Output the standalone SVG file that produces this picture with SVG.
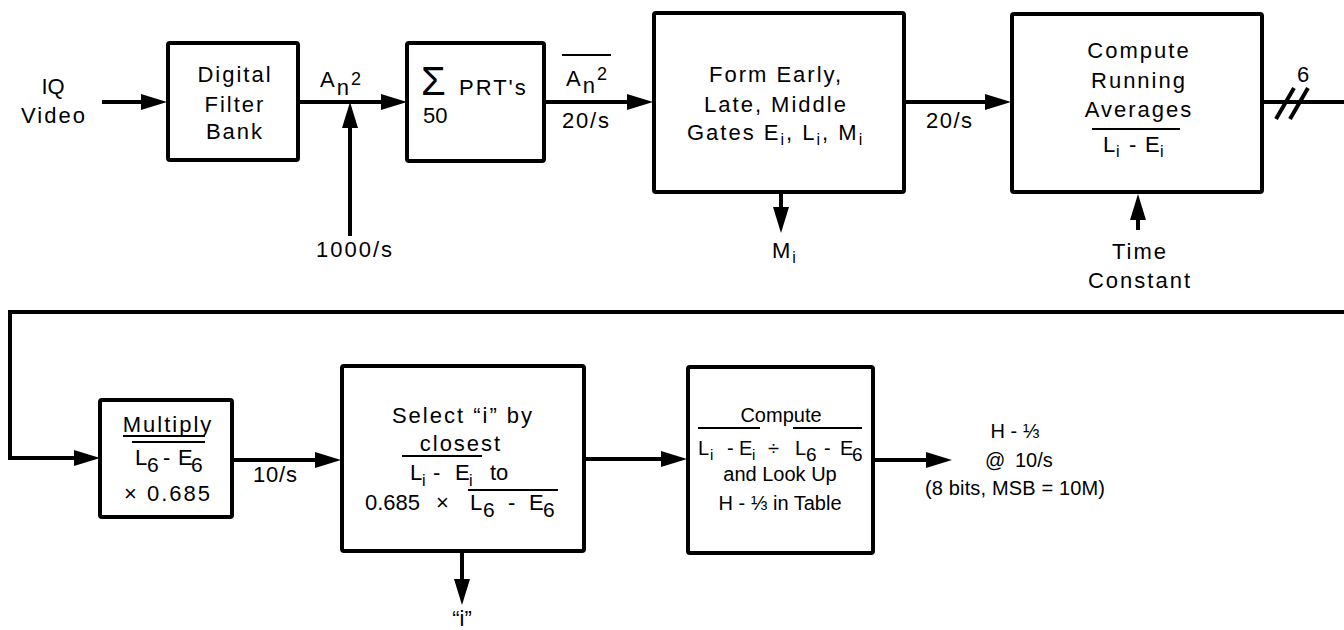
<svg xmlns="http://www.w3.org/2000/svg" width="1344" height="630" viewBox="0 0 1344 630">
<style>
.t{font-family:"Liberation Sans",Arial,Helvetica,sans-serif;font-size:22px;letter-spacing:2px;fill:#000}
.c{text-anchor:middle}
.n{font-size:20px;letter-spacing:0}
.z{letter-spacing:0}
.sig{font-size:40px;letter-spacing:0}
.box{fill:#fff;stroke:#000;stroke-width:4}
.ln{fill:none;stroke:#000;stroke-width:4}
.bar{stroke:#000;stroke-width:2}
</style>
<defs>
<marker id="ah" markerWidth="26" markerHeight="16" refX="16" refY="8" orient="auto" markerUnits="userSpaceOnUse">
<path d="M0,0 L26,8 L0,16 Z" fill="#000"/>
</marker>
</defs>
<rect width="1344" height="630" fill="#fff"/>

<g id="connectors">
<line class="ln" x1="102" y1="102" x2="157" y2="102" marker-end="url(#ah)"/>
<line class="ln" x1="298" y1="102" x2="397" y2="102" marker-end="url(#ah)"/>
<line class="ln" x1="350" y1="236" x2="350" y2="112" marker-end="url(#ah)"/>
<line class="ln" x1="544" y1="102" x2="643" y2="102" marker-end="url(#ah)"/>
<line class="ln" x1="904" y1="102" x2="1001" y2="102" marker-end="url(#ah)"/>
<line class="ln" x1="781" y1="192" x2="781" y2="223" marker-end="url(#ah)"/>
<line class="ln" x1="1138" y1="230" x2="1138" y2="204" marker-end="url(#ah)"/>
<line class="ln" x1="1262" y1="102" x2="1344" y2="102"/>
<line class="ln" x1="1276" y1="119" x2="1294" y2="88"/>
<line class="ln" x1="1290" y1="119" x2="1308" y2="88"/>
<polyline class="ln" points="1344,312 10,312 10,458 90,458" marker-end="url(#ah)"/>
<line class="ln" x1="232" y1="460" x2="331" y2="460" marker-end="url(#ah)"/>
<line class="ln" x1="584" y1="459" x2="677" y2="459" marker-end="url(#ah)"/>
<line class="ln" x1="873" y1="460" x2="942" y2="460" marker-end="url(#ah)"/>
<line class="ln" x1="462" y1="551" x2="462" y2="595" marker-end="url(#ah)"/>
</g>

<g id="labels">
<g id="in-iq">
<text class="t c z" x="53" y="94">IQ</text>
<text class="t c" x="54" y="123">Video</text>
</g>
<text class="t" x="320" y="87">A<tspan dy="8">n</tspan><tspan dy="-10" font-size="18">2</tspan></text>
<text class="t c" x="355" y="257">1000/s</text>
<line class="bar" x1="562" y1="55" x2="611" y2="55"/>
<text class="t" x="566" y="86">A<tspan dy="7">n</tspan><tspan dy="-13" font-size="18">2</tspan></text>
<text class="t z" x="562" y="128" textLength="47">20/s</text>
<text class="t z" x="926" y="128" textLength="46">20/s</text>
<text class="t" x="772" y="258">M<tspan dy="5" font-size="16">i</tspan></text>
<text class="t c" x="1140" y="259">Time</text>
<text class="t c" x="1140" y="288">Constant</text>
<text class="t c z" x="1303" y="82">6</text>
<text class="t z" x="253" y="482" textLength="44">10/s</text>
<text class="t c z" x="462" y="626">“i”</text>
<g id="out-h">
<text class="t c n" x="1015" y="438">H - ⅓</text>
<text class="t n" y="467"><tspan x="985">@</tspan><tspan x="1015">10/s</tspan></text>
<text class="t c n" x="1015" y="495" textLength="180">(8 bits, MSB = 10M)</text>
</g>
</g>

<g id="n-dfb">
<rect class="box" x="168" y="43" width="130" height="117" rx="2"/>
<text class="t c" x="235" y="82">Digital</text>
<text class="t c" x="235" y="112">Filter</text>
<text class="t c" x="235" y="139">Bank</text>
</g>

<g id="n-sum">
<rect class="box" x="407" y="43" width="137" height="118" rx="2"/>
<text class="t sig" x="421" y="95">Σ</text>
<text class="t" x="459" y="95">PRT's</text>
<text class="t z" x="423" y="123">50</text>
</g>

<g id="n-form">
<rect class="box" x="654" y="13" width="250" height="179" rx="2"/>
<text class="t c" x="776" y="82">Form Early,</text>
<text class="t c" x="776" y="112">Late, Middle</text>
<text class="t" x="687" y="140">Gates E<tspan dy="5" font-size="16">i</tspan><tspan dy="-5">, L</tspan><tspan dy="5" font-size="16">i</tspan><tspan dy="-5">, M</tspan><tspan dy="5" font-size="16">i</tspan></text>
</g>

<g id="n-avg">
<rect class="box" x="1012" y="14" width="250" height="178" rx="2"/>
<text class="t c" x="1139" y="58">Compute</text>
<text class="t c" x="1139" y="88">Running</text>
<text class="t c" x="1139" y="117">Averages</text>
<line class="bar" x1="1092" y1="129" x2="1180" y2="129"/>
<text class="t z" y="152"><tspan x="1103">L</tspan><tspan x="1116" dy="5" font-size="16">i</tspan><tspan x="1129" dy="-5">-</tspan><tspan x="1145">E</tspan><tspan x="1160" dy="5" font-size="16">i</tspan></text>
</g>

<g id="n-mult">
<rect class="box" x="100" y="400" width="132" height="117" rx="2"/>
<text class="t c" x="168" y="432">Multiply</text>
<line class="bar" x1="123" y1="436" x2="205" y2="436"/>
<line class="bar" x1="132" y1="442" x2="205" y2="442"/>
<text class="t z" y="465"><tspan x="135">L</tspan><tspan x="147" dy="7" font-size="21">6</tspan><tspan x="163" dy="-7">-</tspan><tspan x="178">E</tspan><tspan x="191" dy="7" font-size="21">6</tspan></text>
<text class="t c" x="168" y="501">× 0.685</text>
</g>

<g id="n-select">
<rect class="box" x="342" y="366" width="242" height="185" rx="2"/>
<text class="t c" x="463" y="423">Select “i” by</text>
<text class="t c" x="461" y="451">closest</text>
<line class="bar" x1="402" y1="456" x2="482" y2="456"/>
<text class="t z" y="480"><tspan x="410">L</tspan><tspan x="422" dy="6" font-size="16">i</tspan><tspan x="433" dy="-6">-</tspan><tspan x="455">E</tspan><tspan x="469" dy="6" font-size="16">i</tspan><tspan x="490" dy="-6">to</tspan></text>
<line class="bar" x1="468" y1="490" x2="558" y2="490"/>
<text class="t z" y="510"><tspan x="365">0.685</tspan><tspan x="436">×</tspan><tspan x="470">L</tspan><tspan x="483" dy="7" font-size="21">6</tspan><tspan x="508" dy="-7">-</tspan><tspan x="529">E</tspan><tspan x="543" dy="7" font-size="21">6</tspan></text>
</g>

<g id="n-compute">
<rect class="box" x="688" y="367" width="185" height="186" rx="2"/>
<text class="t c n" x="781" y="422">Compute</text>
<line class="bar" x1="698" y1="428" x2="760" y2="428"/>
<line class="bar" x1="793" y1="428" x2="862" y2="428"/>
<text class="t n" y="455"><tspan x="698">L</tspan><tspan x="710" dy="5" font-size="15">i</tspan><tspan x="727" dy="-5">-</tspan><tspan x="739">E</tspan><tspan x="752" dy="5" font-size="15">i</tspan><tspan x="768" dy="-5">÷</tspan><tspan x="795">L</tspan><tspan x="806" dy="6" font-size="19">6</tspan><tspan x="824" dy="-6">-</tspan><tspan x="840">E</tspan><tspan x="852" dy="6" font-size="19">6</tspan></text>
<text class="t c n" x="780" y="481">and Look Up</text>
<text class="t c n" x="780" y="510">H - ⅓ in Table</text>
</g>
</svg>
